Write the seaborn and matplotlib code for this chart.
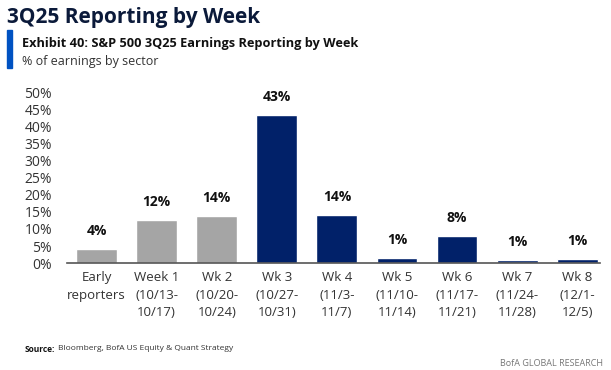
import matplotlib.pyplot as plt
import matplotlib.patches as mpatches
import seaborn as sns
import pandas as pd

# Data
categories = ["Early\nreporters", "Week 1\n(10/13-\n10/17)", "Wk 2\n(10/20-\n10/24)",
              "Wk 3\n(10/27-\n10/31)", "Wk 4\n(11/3-\n11/7)", "Wk 5\n(11/10-\n11/14)",
              "Wk 6\n(11/17-\n11/21)", "Wk 7\n(11/24-\n11/28)", "Wk 8\n(12/1-\n12/5)"]
values = [4.0, 12.5, 13.7, 43.4, 14.1, 1.5, 8.0, 1.0, 1.1]
labels = ["4%", "12%", "14%", "43%", "14%", "1%", "8%", "1%", "1%"]
reported = [True, True, True, False, False, False, False, False, False]
yticks = [0, 5, 10, 15, 20, 25, 30, 35, 40, 45, 50]

GREY = "#A5A5A5"
NAVY = "#012169"

df = pd.DataFrame({"week": categories, "pct": values})
colors = {c: (GREY if r else NAVY) for c, r in zip(categories, reported)}

sns.set_style("white")
plt.rcParams["font.family"] = ["Open Sans", "DejaVu Sans"]

fig = plt.figure(figsize=(6.11, 3.7), dpi=100)
ax = fig.add_axes([0.110, 0.289, 0.872, 0.461])

sns.barplot(data=df, x="week", y="pct", hue="week", palette=colors,
            legend=False, width=0.68, ax=ax, saturation=1)

for bar, lab in zip(ax.patches, labels):
    ax.annotate(lab, (bar.get_x() + bar.get_width() / 2, bar.get_height()),
                xytext=(0, 8), textcoords="offset points", ha="center", va="bottom",
                fontsize=10, fontweight="bold", color="#111111")

ax.set_xlim(-0.49, 8.38)
ax.set_ylim(0, 50)
ax.set_yticks(yticks)
ax.set_yticklabels([f"{t}%" for t in yticks], fontsize=10, color="#333333")
ax.tick_params(axis="y", length=0, pad=11)
ax.tick_params(axis="x", length=0, pad=6)
for t in ax.get_xticklabels():
    t.set_fontsize(9.5)
    t.set_color("#333333")
    t.set_linespacing(1.45)
ax.set_xlabel("")
ax.set_ylabel("")
for side in ["top", "right", "left"]:
    ax.spines[side].set_visible(False)
ax.spines["bottom"].set_color("#555555")
ax.spines["bottom"].set_linewidth(1.2)

# Header text
fig.text(7 / 611, 1 - 18 / 370, "3Q25 Reporting by Week", fontsize=15,
         fontweight="bold", color="#0B1A3A", va="center", ha="left")
fig.patches.append(mpatches.Rectangle((7 / 611, 1 - 68 / 370), 5 / 611, 38 / 370,
                                      transform=fig.transFigure, color="#0052C2"))
fig.text(22 / 611, 1 - 43 / 370, "Exhibit 40: S&P 500 3Q25 Earnings Reporting by Week",
         fontsize=9.2, fontweight="bold", color="#111111", va="center", ha="left")
fig.text(22 / 611, 1 - 61 / 370, "% of earnings by sector",
         fontsize=9, color="#333333", va="center", ha="left")

# Footer
fig.text(25 / 611, 1 - 349 / 370, "Source:", fontsize=6, fontweight="bold",
         color="#111111", va="center", ha="left")
fig.text(58 / 611, 1 - 349 / 370, "Bloomberg, BofA US Equity & Quant Strategy",
         fontsize=6, color="#333333", va="center", ha="left")
fig.text(603 / 611, 1 - 363 / 370, "BofA GLOBAL RESEARCH", fontsize=6.5,
         color="#777777", va="center", ha="right")

fig.savefig("out.png", dpi=100)
